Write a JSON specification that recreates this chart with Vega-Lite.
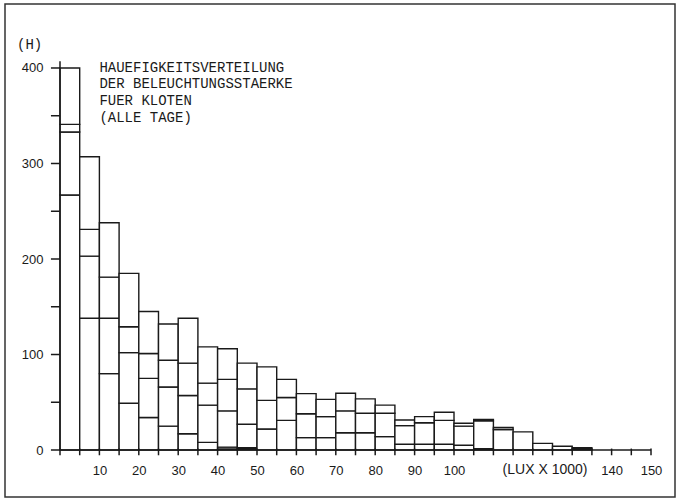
{
  "$schema": "https://vega.github.io/schema/vega-lite/v6.json",
  "width": 670,
  "height": 493,
  "autosize": {"type": "none"},
  "padding": {"left": 5, "top": 4, "right": 3, "bottom": 4},
  "background": "white",
  "config": {
    "view": {"stroke": "#333333", "strokeWidth": 1.5},
    "axis": {"domain": false, "grid": false, "ticks": false, "labelColor": "#1a1a1a", "labelFont": "Liberation Sans", "labelFontSize": 13, "labelOverlap": false, "labelFlush": false, "labelBound": false}
  },
  "layer": [
    {
      "data": {"values": [
        {"lo": 0, "hi": 5, "k": 1, "n": 267}, {"lo": 0, "hi": 5, "k": 2, "n": 66}, {"lo": 0, "hi": 5, "k": 3, "n": 8}, {"lo": 0, "hi": 5, "k": 4, "n": 59},
        {"lo": 5, "hi": 10, "k": 1, "n": 138}, {"lo": 5, "hi": 10, "k": 2, "n": 65}, {"lo": 5, "hi": 10, "k": 3, "n": 28}, {"lo": 5, "hi": 10, "k": 4, "n": 76},
        {"lo": 10, "hi": 15, "k": 1, "n": 80}, {"lo": 10, "hi": 15, "k": 2, "n": 58}, {"lo": 10, "hi": 15, "k": 3, "n": 43}, {"lo": 10, "hi": 15, "k": 4, "n": 57},
        {"lo": 15, "hi": 20, "k": 1, "n": 49}, {"lo": 15, "hi": 20, "k": 2, "n": 53}, {"lo": 15, "hi": 20, "k": 3, "n": 27}, {"lo": 15, "hi": 20, "k": 4, "n": 56},
        {"lo": 20, "hi": 25, "k": 1, "n": 34}, {"lo": 20, "hi": 25, "k": 2, "n": 41}, {"lo": 20, "hi": 25, "k": 3, "n": 26}, {"lo": 20, "hi": 25, "k": 4, "n": 44},
        {"lo": 25, "hi": 30, "k": 1, "n": 25}, {"lo": 25, "hi": 30, "k": 2, "n": 41}, {"lo": 25, "hi": 30, "k": 3, "n": 28}, {"lo": 25, "hi": 30, "k": 4, "n": 38},
        {"lo": 30, "hi": 35, "k": 1, "n": 17}, {"lo": 30, "hi": 35, "k": 2, "n": 40}, {"lo": 30, "hi": 35, "k": 3, "n": 34}, {"lo": 30, "hi": 35, "k": 4, "n": 47},
        {"lo": 35, "hi": 40, "k": 1, "n": 8}, {"lo": 35, "hi": 40, "k": 2, "n": 39}, {"lo": 35, "hi": 40, "k": 3, "n": 23}, {"lo": 35, "hi": 40, "k": 4, "n": 38},
        {"lo": 40, "hi": 45, "k": 1, "n": 1}, {"lo": 40, "hi": 45, "k": 2, "n": 2}, {"lo": 40, "hi": 45, "k": 3, "n": 38}, {"lo": 40, "hi": 45, "k": 4, "n": 33}, {"lo": 40, "hi": 45, "k": 5, "n": 32},
        {"lo": 45, "hi": 50, "k": 1, "n": 1}, {"lo": 45, "hi": 50, "k": 2, "n": 1.5}, {"lo": 45, "hi": 50, "k": 3, "n": 24.5}, {"lo": 45, "hi": 50, "k": 4, "n": 37}, {"lo": 45, "hi": 50, "k": 5, "n": 27},
        {"lo": 50, "hi": 55, "k": 1, "n": 22}, {"lo": 50, "hi": 55, "k": 2, "n": 30}, {"lo": 50, "hi": 55, "k": 3, "n": 35},
        {"lo": 55, "hi": 60, "k": 1, "n": 31}, {"lo": 55, "hi": 60, "k": 2, "n": 24}, {"lo": 55, "hi": 60, "k": 3, "n": 19},
        {"lo": 60, "hi": 65, "k": 1, "n": 13}, {"lo": 60, "hi": 65, "k": 2, "n": 25}, {"lo": 60, "hi": 65, "k": 3, "n": 21},
        {"lo": 65, "hi": 70, "k": 1, "n": 13}, {"lo": 65, "hi": 70, "k": 2, "n": 22}, {"lo": 65, "hi": 70, "k": 3, "n": 18},
        {"lo": 70, "hi": 75, "k": 1, "n": 18}, {"lo": 70, "hi": 75, "k": 2, "n": 23}, {"lo": 70, "hi": 75, "k": 3, "n": 18.5},
        {"lo": 75, "hi": 80, "k": 1, "n": 18}, {"lo": 75, "hi": 80, "k": 2, "n": 20.5}, {"lo": 75, "hi": 80, "k": 3, "n": 15},
        {"lo": 80, "hi": 85, "k": 1, "n": 14}, {"lo": 80, "hi": 85, "k": 2, "n": 24.5}, {"lo": 80, "hi": 85, "k": 3, "n": 8.5},
        {"lo": 85, "hi": 90, "k": 1, "n": 6}, {"lo": 85, "hi": 90, "k": 2, "n": 19.5}, {"lo": 85, "hi": 90, "k": 3, "n": 6},
        {"lo": 90, "hi": 95, "k": 1, "n": 6}, {"lo": 90, "hi": 95, "k": 2, "n": 22.5}, {"lo": 90, "hi": 95, "k": 3, "n": 6.5},
        {"lo": 95, "hi": 100, "k": 1, "n": 6}, {"lo": 95, "hi": 100, "k": 2, "n": 25}, {"lo": 95, "hi": 100, "k": 3, "n": 8.5},
        {"lo": 100, "hi": 105, "k": 1, "n": 5}, {"lo": 100, "hi": 105, "k": 2, "n": 20}, {"lo": 100, "hi": 105, "k": 3, "n": 3},
        {"lo": 105, "hi": 110, "k": 1, "n": 1.5}, {"lo": 105, "hi": 110, "k": 2, "n": 29}, {"lo": 105, "hi": 110, "k": 3, "n": 1.5},
        {"lo": 110, "hi": 115, "k": 1, "n": 21.5}, {"lo": 110, "hi": 115, "k": 2, "n": 2},
        {"lo": 115, "hi": 120, "k": 1, "n": 19},
        {"lo": 120, "hi": 125, "k": 1, "n": 7},
        {"lo": 125, "hi": 130, "k": 1, "n": 4},
        {"lo": 130, "hi": 135, "k": 1, "n": 1}, {"lo": 130, "hi": 135, "k": 2, "n": 1.5}
      ]},
      "transform": [
        {"stack": "n", "groupby": ["lo"], "sort": [{"field": "k", "order": "ascending"}], "as": ["y0", "y1"]}
      ],
      "mark": {"type": "bar", "fill": "white", "stroke": "#1a1a1a", "strokeWidth": 1.4, "clip": false},
      "encoding": {
        "x": {"field": "lo", "type": "quantitative",
          "scale": {"domain": [-13.96, 156.09], "nice": false, "zero": false},
          "axis": {"orient": "bottom", "offset": -47, "title": null, "values": [10,20,30,40,50,60,70,80,90,100,140,150],
            "labelPadding": 14}},
        "x2": {"field": "hi"},
        "y": {"field": "y0", "type": "quantitative",
          "scale": {"domain": [-49.2, 467.0], "nice": false, "zero": false},
          "axis": {"orient": "left", "offset": -55, "title": null, "values": [0,100,200,300,400],
            "labelPadding": 17}},
        "y2": {"field": "y1"}
      }
    },
    {
      "data": {"values": [
        {"lo": -2.3, "hi": 150, "y0": 0, "y1": 0},
        {"lo": 0, "hi": 0, "y0": 0, "y1": 407},
        {"lo": -2.3, "hi": 0, "y0": 50, "y1": 50},
        {"lo": -2.3, "hi": 0, "y0": 100, "y1": 100},
        {"lo": -2.3, "hi": 0, "y0": 150, "y1": 150},
        {"lo": -2.3, "hi": 0, "y0": 200, "y1": 200},
        {"lo": -2.3, "hi": 0, "y0": 250, "y1": 250},
        {"lo": -2.3, "hi": 0, "y0": 300, "y1": 300},
        {"lo": -2.3, "hi": 0, "y0": 350, "y1": 350},
        {"lo": -2.3, "hi": 0, "y0": 400, "y1": 400},
        {"lo": 0, "hi": 0, "y0": -5.5, "y1": 1.5},
        {"lo": 5, "hi": 5, "y0": -5.5, "y1": 1.5},
        {"lo": 10, "hi": 10, "y0": -5.5, "y1": 1.5},
        {"lo": 15, "hi": 15, "y0": -5.5, "y1": 1.5},
        {"lo": 20, "hi": 20, "y0": -5.5, "y1": 1.5},
        {"lo": 25, "hi": 25, "y0": -5.5, "y1": 1.5},
        {"lo": 30, "hi": 30, "y0": -5.5, "y1": 1.5},
        {"lo": 35, "hi": 35, "y0": -5.5, "y1": 1.5},
        {"lo": 40, "hi": 40, "y0": -5.5, "y1": 1.5},
        {"lo": 45, "hi": 45, "y0": -5.5, "y1": 1.5},
        {"lo": 50, "hi": 50, "y0": -5.5, "y1": 1.5},
        {"lo": 55, "hi": 55, "y0": -5.5, "y1": 1.5},
        {"lo": 60, "hi": 60, "y0": -5.5, "y1": 1.5},
        {"lo": 65, "hi": 65, "y0": -5.5, "y1": 1.5},
        {"lo": 70, "hi": 70, "y0": -5.5, "y1": 1.5},
        {"lo": 75, "hi": 75, "y0": -5.5, "y1": 1.5},
        {"lo": 80, "hi": 80, "y0": -5.5, "y1": 1.5},
        {"lo": 85, "hi": 85, "y0": -5.5, "y1": 1.5},
        {"lo": 90, "hi": 90, "y0": -5.5, "y1": 1.5},
        {"lo": 95, "hi": 95, "y0": -5.5, "y1": 1.5},
        {"lo": 100, "hi": 100, "y0": -5.5, "y1": 1.5},
        {"lo": 105, "hi": 105, "y0": -5.5, "y1": 1.5},
        {"lo": 110, "hi": 110, "y0": -5.5, "y1": 1.5},
        {"lo": 115, "hi": 115, "y0": -5.5, "y1": 1.5},
        {"lo": 120, "hi": 120, "y0": -5.5, "y1": 1.5},
        {"lo": 125, "hi": 125, "y0": -5.5, "y1": 1.5},
        {"lo": 130, "hi": 130, "y0": -5.5, "y1": 1.5},
        {"lo": 135, "hi": 135, "y0": -5.5, "y1": 1.5},
        {"lo": 140, "hi": 140, "y0": -5.5, "y1": 1.5},
        {"lo": 145, "hi": 145, "y0": -5.5, "y1": 1.5},
        {"lo": 150, "hi": 150, "y0": -5.5, "y1": 1.5}
      ]},
      "mark": {"type": "rule", "stroke": "#1a1a1a", "strokeWidth": 1.5},
      "encoding": {
        "x": {"field": "lo", "type": "quantitative"},
        "x2": {"field": "hi"},
        "y": {"field": "y0", "type": "quantitative"},
        "y2": {"field": "y1"}
      }
    },
    {
      "data": {"values": [{}]},
      "mark": {"type": "text", "text": ["HAUEFIGKEITSVERTEILUNG", "DER BELEUCHTUNGSSTAERKE", "FUER KLOTEN", "(ALLE TAGE)"],
        "font": "Liberation Mono", "fontSize": 14, "lineHeight": 16.7, "align": "left", "baseline": "top", "fill": "#1a1a1a"},
      "encoding": {
        "x": {"datum": 10.0, "type": "quantitative"},
        "y": {"datum": 407.7, "type": "quantitative"}
      }
    },
    {
      "data": {"values": [{}]},
      "mark": {"type": "text", "text": "(H)", "font": "Liberation Mono", "fontSize": 14, "align": "left", "baseline": "middle", "fill": "#1a1a1a"},
      "encoding": {
        "x": {"datum": -10.9, "type": "quantitative"},
        "y": {"datum": 424, "type": "quantitative"}
      }
    },
    {
      "data": {"values": [{}]},
      "mark": {"type": "text", "text": "(LUX X 1000)", "font": "Liberation Sans", "fontSize": 14, "align": "center", "baseline": "middle", "fill": "#1a1a1a"},
      "encoding": {
        "x": {"datum": 123.1, "type": "quantitative"},
        "y": {"datum": -20.9, "type": "quantitative"}
      }
    }
  ]
}
